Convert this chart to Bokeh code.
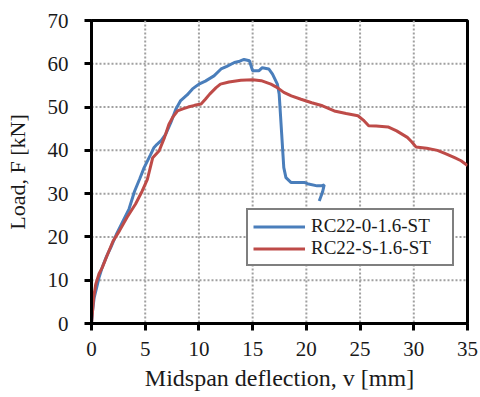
from bokeh.plotting import figure
from bokeh.models import Range1d, FixedTicker, Legend, LegendItem, Span
from bokeh.embed import file_html
from bokeh.resources import INLINE

# RC22-0-1.6-ST (blue)
blue_x = [0, 0.1, 0.25, 0.5, 0.7, 1.0, 1.4, 1.8, 2.3, 2.8, 3.5, 4.0, 4.5, 4.9, 5.5,
          5.8, 6.1, 6.5, 6.9, 7.4, 7.85, 8.3, 8.9, 9.4, 10.0, 10.6, 11.4, 12.06,
          12.6, 13.3, 13.8, 14.2, 14.7, 15.0, 15.6, 15.9, 16.5, 16.85, 17.3, 17.47,
          17.9, 18.1, 18.56, 19.8, 20.1, 21.0, 21.35, 21.66, 21.5, 21.2]
blue_y = [0, 3, 6, 8.5, 10.6, 13, 15.5, 17.6, 20.5, 23, 26.5, 30.5, 33.5, 36, 39,
          40.6, 41.4, 42.3, 43.7, 46.5, 49.5, 51.5, 52.8, 54.2, 55.3, 56.0, 57.2, 58.8,
          59.4, 60.3, 60.6, 61.0, 60.7, 58.4, 58.4, 59.1, 58.8, 57.6, 55.3, 53.0,
          36.0, 33.7, 32.6, 32.6, 32.3, 31.8, 31.8, 32.0, 30.3, 28.3]

# RC22-S-1.6-ST (red)
red_x = [0, 0.1, 0.2, 0.4, 0.7, 1.0, 1.5, 2.0, 2.6, 3.3, 4.1, 4.7, 5.2, 5.7, 6.3,
         6.8, 7.2, 7.6, 8.0, 8.5, 9.0, 9.6, 10.2, 10.6, 11.0, 11.6, 12.0, 12.8,
         13.9, 15.0, 15.8, 16.7, 17.3, 17.9, 18.6, 19.5, 20.5, 21.5, 22.6, 23.7,
         24.8, 25.3, 25.8, 26.5, 27.6, 28.4, 29.4, 29.8, 30.2, 31.2, 32.2, 33.0,
         33.8, 34.4, 35.0]
red_y = [0, 2.9, 6, 9.1, 11.5, 12.9, 16, 19, 21.4, 24.5, 27.6, 30.5, 33.3, 38.3, 39.9,
         43, 46, 47.8, 49.1, 49.6, 50.0, 50.4, 50.7, 51.8, 53, 54.5, 55.3, 55.8,
         56.2, 56.3, 56.1, 55.3, 54.5, 53.4, 52.6, 51.8, 51, 50.3, 49.1, 48.5,
         48, 47, 45.7, 45.6, 45.4, 44.5, 43, 42, 40.8, 40.5, 40, 39.2, 38.3, 37.6,
         36.5]

x_ticks = [0, 5, 10, 15, 20, 25, 30, 35]
y_ticks = [0, 10, 20, 30, 40, 50, 60, 70]
series_names = ["RC22-0-1.6-ST", "RC22-S-1.6-ST"]
FONT = "Liberation Serif"

p = figure(width=480, height=397, output_backend="svg", toolbar_location=None,
           x_range=Range1d(0, 35), y_range=Range1d(0, 70),
           min_border_left=91, min_border_right=13, min_border_top=20,
           min_border_bottom=74)

p.outline_line_color = "black"
p.outline_line_width = 3
p.grid.visible = False

# dotted grid lines at the tick positions
for t in x_ticks[1:-1]:
    p.add_layout(Span(location=t, dimension="height", line_color="#a0a0a0",
                      line_width=2, line_dash="2 2", level="underlay"))
for t in y_ticks[1:-1]:
    p.add_layout(Span(location=t, dimension="width", line_color="#a0a0a0",
                      line_width=2, line_dash="2 2", level="underlay"))

for ax, ticks in ((p.xaxis, x_ticks), (p.yaxis, y_ticks)):
    ax.ticker = FixedTicker(ticks=ticks)
    ax.axis_line_width = 3
    ax.axis_line_color = "black"
    ax.major_tick_line_width = 3
    ax.major_tick_line_color = "black"
    ax.major_tick_out = 7
    ax.major_tick_in = 0
    ax.minor_tick_line_color = None
    ax.major_label_text_font = FONT
    ax.major_label_text_font_size = "21px"
    ax.major_label_text_color = "#1a1a1a"
    ax.axis_label_text_font = FONT
    ax.axis_label_text_font_style = "normal"
    ax.axis_label_text_color = "#1a1a1a"

p.xaxis.axis_label = "Midspan deflection, v [mm]"
p.xaxis.axis_label_text_font_size = "24px"
p.xaxis.major_label_standoff = 11
p.xaxis.axis_label_standoff = 6
p.yaxis.axis_label = "Load, F [kN]"
p.yaxis.axis_label_text_font_size = "22px"
p.yaxis.major_label_standoff = 16
p.yaxis.axis_label_standoff = 15

r_blue = p.line(blue_x, blue_y, line_color="#4a7ebb", line_width=3)
r_red = p.line(red_x, red_y, line_color="#be4b48", line_width=3)

legend = Legend(items=[LegendItem(label=series_names[0], renderers=[r_blue]),
                       LegendItem(label=series_names[1], renderers=[r_red])],
                location=(155, 57), orientation="vertical")
legend.label_text_font = FONT
legend.label_text_font_size = "19px"
legend.label_text_color = "#1a1a1a"
legend.border_line_color = "black"
legend.border_line_width = 2
legend.background_fill_color = "white"
legend.background_fill_alpha = 1
legend.padding = 5
legend.spacing = 0
legend.margin = 0
legend.glyph_width = 52
legend.glyph_height = 19
legend.label_height = 19
legend.label_width = 136
legend.label_standoff = 6
p.add_layout(legend, "center")

open("out.html", "w").write(file_html(p, INLINE))
